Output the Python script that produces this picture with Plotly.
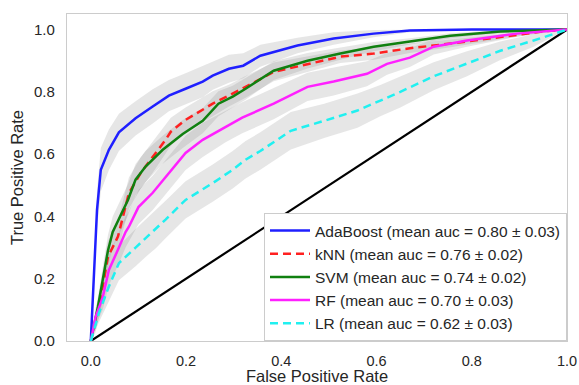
import plotly.graph_objects as go

# ---- data ----
ada_x = [0, 0.01, 0.013, 0.021, 0.038, 0.059, 0.094, 0.13, 0.164, 0.199, 0.235, 0.256, 0.29, 0.32, 0.356, 0.434, 0.51, 0.594, 0.67, 0.80, 1.0]
ada_y = [0, 0.33, 0.42, 0.55, 0.614, 0.67, 0.715, 0.753, 0.788, 0.81, 0.833, 0.852, 0.874, 0.884, 0.916, 0.949, 0.971, 0.987, 0.997, 1.0, 1.0]
ada_sd = [0, 0.05, 0.06, 0.07, 0.065, 0.06, 0.055, 0.055, 0.05, 0.05, 0.05, 0.045, 0.045, 0.04, 0.035, 0.025, 0.02, 0.012, 0.006, 0.002, 0]

knn_x = [0, 0.01, 0.021, 0.036, 0.057, 0.067, 0.08, 0.105, 0.13, 0.157, 0.168, 0.199, 0.256, 0.29, 0.325, 0.384, 0.455, 0.524, 0.594, 0.67, 0.755, 0.86, 0.95, 1.0]
knn_y = [0, 0.058, 0.14, 0.27, 0.335, 0.40, 0.475, 0.54, 0.59, 0.646, 0.672, 0.71, 0.762, 0.788, 0.816, 0.864, 0.89, 0.913, 0.923, 0.94, 0.955, 0.977, 0.994, 1.0]
knn_sd = [0, 0.03, 0.04, 0.05, 0.05, 0.05, 0.05, 0.05, 0.05, 0.045, 0.045, 0.04, 0.04, 0.035, 0.035, 0.03, 0.025, 0.02, 0.02, 0.015, 0.012, 0.008, 0.004, 0]

svm_x = [0, 0.015, 0.025, 0.036, 0.046, 0.059, 0.078, 0.094, 0.115, 0.151, 0.193, 0.235, 0.268, 0.298, 0.325, 0.384, 0.455, 0.524, 0.594, 0.67, 0.755, 0.86, 1.0]
svm_y = [0, 0.11, 0.196, 0.29, 0.35, 0.39, 0.453, 0.518, 0.56, 0.614, 0.665, 0.707, 0.762, 0.785, 0.81, 0.868, 0.90, 0.923, 0.945, 0.962, 0.98, 0.994, 1.0]
svm_sd = [0, 0.03, 0.04, 0.05, 0.05, 0.05, 0.05, 0.05, 0.05, 0.045, 0.045, 0.04, 0.04, 0.035, 0.035, 0.03, 0.025, 0.02, 0.015, 0.01, 0.008, 0.004, 0]

rf_x = [0, 0.01, 0.025, 0.038, 0.059, 0.073, 0.08, 0.10, 0.13, 0.164, 0.199, 0.235, 0.283, 0.318, 0.384, 0.455, 0.51, 0.58, 0.622, 0.67, 0.72, 0.79, 0.895, 1.0]
rf_y = [0, 0.077, 0.14, 0.228, 0.30, 0.35, 0.367, 0.43, 0.476, 0.54, 0.604, 0.646, 0.688, 0.717, 0.762, 0.816, 0.833, 0.858, 0.89, 0.91, 0.945, 0.965, 0.987, 1.0]
rf_sd = [0, 0.03, 0.04, 0.05, 0.05, 0.05, 0.05, 0.055, 0.055, 0.055, 0.055, 0.055, 0.05, 0.05, 0.05, 0.045, 0.045, 0.04, 0.035, 0.03, 0.025, 0.02, 0.01, 0]

lr_x = [0, 0.017, 0.038, 0.059, 0.094, 0.115, 0.136, 0.157, 0.199, 0.256, 0.298, 0.325, 0.356, 0.42, 0.49, 0.56, 0.608, 0.65, 0.72, 0.79, 0.86, 0.93, 0.985, 1.0]
lr_y = [0, 0.09, 0.175, 0.25, 0.30, 0.33, 0.357, 0.39, 0.453, 0.507, 0.55, 0.582, 0.61, 0.675, 0.707, 0.74, 0.772, 0.80, 0.85, 0.89, 0.932, 0.965, 0.994, 1.0]
lr_sd = [0, 0.03, 0.045, 0.055, 0.06, 0.06, 0.06, 0.06, 0.06, 0.06, 0.06, 0.06, 0.06, 0.06, 0.055, 0.055, 0.05, 0.05, 0.045, 0.04, 0.03, 0.02, 0.005, 0]

names = ["AdaBoost (mean auc = 0.80 \u00b1 0.03)",
         "kNN (mean auc = 0.76 \u00b1 0.02)",
         "SVM (mean auc = 0.74 \u00b1 0.02)",
         "RF (mean auc = 0.70 \u00b1 0.03)",
         "LR (mean auc = 0.62 \u00b1 0.03)"]
colors = ["#1f1fff", "#ff2020", "#108010", "#ff20ff", "#20f0f0"]
dashes = ["solid", "8px,5px", "solid", "solid", "8px,5px"]

tick_vals = [0, 0.2, 0.4, 0.6, 0.8, 1.0]
tick_text = ["0.0", "0.2", "0.4", "0.6", "0.8", "1.0"]

series = [(ada_x, ada_y, ada_sd), (knn_x, knn_y, knn_sd), (svm_x, svm_y, svm_sd),
          (rf_x, rf_y, rf_sd), (lr_x, lr_y, lr_sd)]

fig = go.Figure()

# std bands
for (x, y, sd) in series:
    up = [min(v + s, 1.0) for v, s in zip(y, sd)]
    lo = [max(v - s, 0.0) for v, s in zip(y, sd)]
    fig.add_trace(go.Scatter(x=x + x[::-1], y=up + lo[::-1], fill="toself",
                             fillcolor="rgba(128,128,128,0.2)", line=dict(width=0),
                             mode="lines", showlegend=False, hoverinfo="skip"))

# chance line
fig.add_trace(go.Scatter(x=[0, 1], y=[0, 1], mode="lines",
                         line=dict(color="black", width=2.2), showlegend=False))

for (x, y, sd), n, c, d in zip(series, names, colors, dashes):
    fig.add_trace(go.Scatter(x=x, y=y, mode="lines", name=n,
                             line=dict(color=c, width=2.5, dash=d)))

axis_common = dict(showgrid=False, zeroline=False, showline=True, mirror=True,
                   linecolor="#cccccc", linewidth=1.3,
                   ticks="outside", tickcolor="rgba(0,0,0,0)",
                   automargin=False,
                   title_font=dict(size=16.5, color="#262626"))

fig.update_layout(
    width=579, height=385,
    margin=dict(l=67, r=12, t=14, b=44),
    plot_bgcolor="white", paper_bgcolor="white",
    font=dict(family="Liberation Sans, Arial, sans-serif", color="#262626"),
    xaxis=dict(range=[-0.05, 1.0], tickvals=tick_vals, ticktext=tick_text, ticklen=6,
               tickfont=dict(size=14.5, color="#262626"),
               title=dict(text="False Positive Rate", standoff=5), **axis_common),
    yaxis=dict(range=[0, 1.05], tickvals=tick_vals, ticktext=tick_text, ticklen=8,
               tickfont=dict(size=15, color="#262626"),
               title=dict(text="True Positive Rate", standoff=6), **axis_common),
    legend=dict(x=1.0, y=0.0, xanchor="right", yanchor="bottom",
                bgcolor="white", bordercolor="#cccccc", borderwidth=1,
                font=dict(size=15.5, color="#262626"), tracegroupgap=0,
                itemwidth=40),
)

fig.write_html("out.html", config={"displayModeBar": False},
               post_script="document.body.style.margin='0';document.body.style.overflow='hidden';")
